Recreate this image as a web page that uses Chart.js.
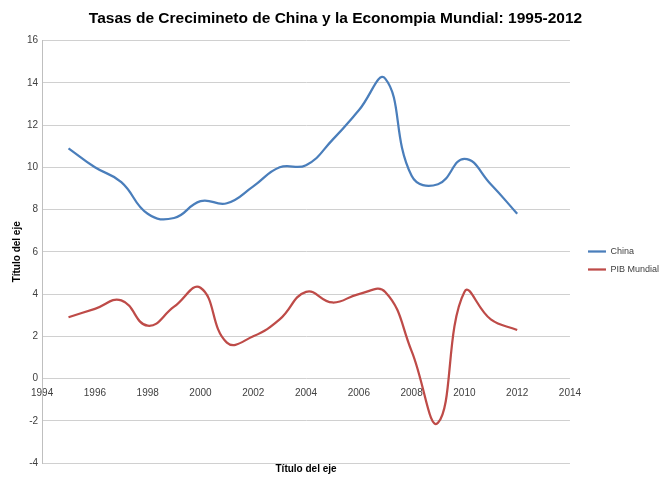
<!DOCTYPE html>
<html>
<head>
<meta charset="utf-8">
<script src="https://cdn.jsdelivr.net/npm/chart.js@4/dist/chart.umd.min.js"></script>
<style>
  html, body { margin: 0; padding: 0; background: #fff; }
  #wrap { width: 660px; height: 477px; }
</style>
</head>
<body>
<div id="wrap"><canvas id="myChart"></canvas></div>
<script>
// years and growth rates (%)
const years = [1995, 1996, 1997, 1998, 1999, 2000, 2001, 2002, 2003, 2004, 2005, 2006, 2007, 2008, 2009, 2010, 2011, 2012];
const china = [10.9, 10.0, 9.3, 7.8, 7.6, 8.4, 8.3, 9.1, 10.0, 10.1, 11.3, 12.7, 14.2, 9.6, 9.2, 10.4, 9.2, 7.8];
const pibMundial = [2.9, 3.3, 3.7, 2.5, 3.4, 4.3, 1.7, 2.0, 2.8, 4.1, 3.6, 4.0, 4.1, 1.3, -2.1, 4.1, 2.8, 2.3];
const xTicks = [1994, 1996, 1998, 2000, 2002, 2004, 2006, 2008, 2010, 2012, 2014];

const labelFont = "'Liberation Sans', Arial, sans-serif";

function toPoints(values) {
  return years.map((y, i) => ({ x: y, y: values[i] }));
}

// nudge the legend a little to the right, like the excel one
const legendNudge = {
  id: 'legendNudge',
  afterLayout(chart) {
    if (chart.legend) {
      chart.legend.left += 9;
      chart.legend.right += 9;
    }
  }
};

let ctx = document.getElementById('myChart').getContext('2d');

let myChart = new Chart(ctx, {
  type: 'scatter',
  data: {
    datasets: [{
      label: 'China',
      data: toPoints(china),
      showLine: true,
      borderColor: '#4a7ebb',
      backgroundColor: '#4a7ebb',
      borderWidth: 2.25,
      pointRadius: 0,
      tension: 0.45
    }, {
      label: 'PIB Mundial',
      data: toPoints(pibMundial),
      showLine: true,
      borderColor: '#be4b48',
      backgroundColor: '#be4b48',
      borderWidth: 2.25,
      pointRadius: 0,
      tension: 0.45
    }]
  },
  options: {
    responsive: true,
    maintainAspectRatio: false,
    animation: false,
    layout: { padding: { left: 11, right: 0, top: 2, bottom: 0 } },
    plugins: {
      title: {
        display: true,
        text: 'Tasas de Crecimineto de China y la Econompia Mundial: 1995-2012',
        color: '#000',
        font: { family: labelFont, size: 15.5, weight: 'bold' },
        padding: { top: 7, bottom: 13 }
      },
      legend: {
        display: true,
        position: 'right',
        title: {
          // empty title only pushes the entries down a bit
          display: true,
          text: '',
          font: { size: 10 },
          padding: { top: 30, bottom: 0 }
        },
        labels: {
          usePointStyle: true,
          pointStyle: 'line',
          pointStyleWidth: 18,
          color: '#404040',
          font: { family: labelFont, size: 9 },
          padding: 9
        }
      },
      tooltip: { enabled: false }
    },
    scales: {
      x: {
        type: 'linear',
        position: { y: 0 },
        min: 1994,
        max: 2014,
        afterBuildTicks: (scale) => { scale.ticks = xTicks.map(v => ({ value: v })); },
        ticks: {
          color: '#404040',
          font: { family: labelFont, size: 10 },
          padding: 9,
          maxRotation: 0,
          callback: (v) => String(v)
        },
        grid: { display: false, drawTicks: false },
        border: { display: false }
      },
      x2: {
        type: 'linear',
        position: 'bottom',
        min: 1994,
        max: 2014,
        ticks: { display: false },
        grid: { display: false, drawTicks: false },
        border: { display: false },
        title: {
          display: true,
          text: 'Título del eje',
          color: '#000',
          font: { family: labelFont, size: 10, weight: 'bold' },
          padding: { top: 0, bottom: 2 }
        }
      },
      y: {
        min: -4,
        max: 16,
        ticks: {
          stepSize: 2,
          color: '#404040',
          font: { family: labelFont, size: 10 },
          padding: 4
        },
        grid: { color: '#d0d0d0', lineWidth: 1, drawTicks: false },
        border: { display: true, color: '#bfbfbf' },
        title: {
          display: true,
          text: 'Título del eje',
          color: '#000',
          font: { family: labelFont, size: 10, weight: 'bold' },
          padding: { top: 0, bottom: 0 }
        }
      }
    }
  },
  plugins: [legendNudge]
});
</script>
</body>
</html>
